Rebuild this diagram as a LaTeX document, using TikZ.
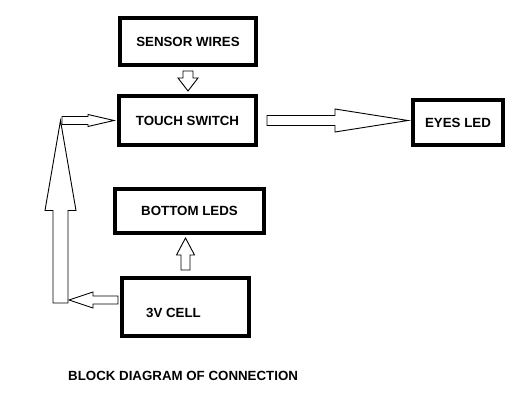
\documentclass[tikz,border=0pt]{standalone}
\usepackage{fontspec}
\setmainfont{Liberation Sans}
\usetikzlibrary{calc}

\tikzset{
  box/.style={draw=black, line width=4pt, inner sep=0pt},
  boxtext/.style={inner sep=0pt},
  arrowline/.style={draw=black, line width=0.9pt, fill=white, line join=miter}
}

% hollow block arrow: tail, tip, shaft half width, head half width, head length
\newcommand{\blockarrow}[5]{%
  \coordinate (head base) at ($(#2)!#5!(#1)$);
  \draw[arrowline] ($(#1)!#3!90:(#2)$) -- ($(head base)!#3!90:(#2)$)
    -- ($(head base)!#4!90:(#2)$) -- (#2)
    -- ($(head base)!#4!-90:(#2)$) -- ($(head base)!#3!-90:(#2)$)
    -- ($(#1)!#3!-90:(#2)$) -- cycle;
}

\begin{document}
\begin{tikzpicture}[x=1pt, y=-1pt, font=\fontsize{13.3}{16}\selectfont\bfseries]
\useasboundingbox (0,0) rectangle (528,409);

% draw boxes
\node[box, minimum width=136pt, minimum height=47pt] (sensor) at (188,41.5) {SENSOR WIRES};
\node[box, minimum width=137pt, minimum height=49pt] (touch) at (187.5,120.5) {TOUCH SWITCH};
\node[box, minimum width=90pt, minimum height=45pt] (eyes) at (458,122.5) {EYES LED};
\node[box, minimum width=149pt, minimum height=44pt] (bottom) at (189.5,211) {BOTTOM LEDS};
\node[box, minimum width=127pt, minimum height=58pt] (cell) at (185.5,307) {};
\node[boxtext] (celltext) at ($(cell.center)+(-12,6)$) {3V CELL};

% arrow ends
\coordinate (sw-tail) at ($(sensor.south)+(0,4)$);
\coordinate (sw-tip) at ($(sensor.south |- touch.north)+(0,-3)$);
\coordinate (ts-tail) at ($(touch.east)+(9,0)$);
\coordinate (ts-tip) at ($(touch.east -| eyes.west)+(-3,0)$);
\coordinate (cl-tail) at ($(cell.north)+(0,-6)$);
\coordinate (cl-tip) at ($(cell.north |- bottom.south)+(0,3)$);
\coordinate (cw-tail) at ($(cell.west)+(-2,-7)$);
\coordinate (loop-low) at ($(cell.west)+(-59.5,-4)$);
\coordinate (loop-high) at (loop-low |- touch.west);
\coordinate (cw-tip) at ($(cw-tail -| loop-low)+(8.5,0)$);
\coordinate (lt-tail) at ($(loop-high)+(1.5,0)$);
\coordinate (lt-tip) at ($(touch.west)+(-3,0)$);

% draw block arrows
\blockarrow{sw-tail}{sw-tip}{5pt}{10pt}{13pt}
\blockarrow{ts-tail}{ts-tip}{5pt}{11.5pt}{73pt}
\blockarrow{cl-tail}{cl-tip}{4.5pt}{9pt}{17pt}
\blockarrow{loop-low}{loop-high}{7.5pt}{15.5pt}{90pt}
\blockarrow{cw-tail}{cw-tip}{4pt}{8pt}{24pt}
\blockarrow{lt-tail}{lt-tip}{4pt}{6pt}{26pt}

% draw caption
\node[boxtext, anchor=base west] (caption) at (68,380) {BLOCK DIAGRAM OF CONNECTION};

\end{tikzpicture}
\end{document}
